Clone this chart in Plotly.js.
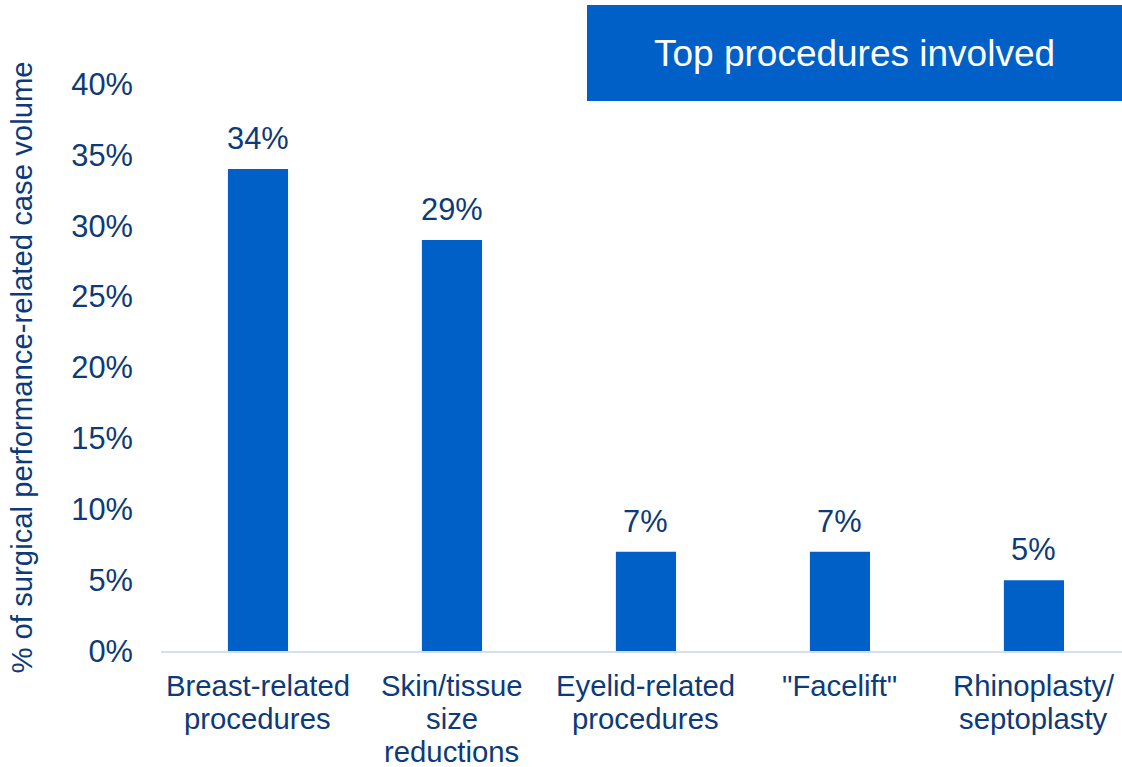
<!DOCTYPE html>
<html>
<head>
<meta charset="utf-8">
<script src="https://cdn.plot.ly/plotly-3.0.1.min.js"></script>
<style>html,body{margin:0;padding:0;background:#fff;}#chart{width:1122px;height:767px;}</style>
</head>
<body>
<div id="chart"></div>
<script>
const categories = ["Breast-related<br>procedures", "Skin/tissue<br>size<br>reductions", "Eyelid-related<br>procedures", "\"Facelift\"", "Rhinoplasty/<br>septoplasty"];
const values = [34, 29, 7, 7, 5];
const valueLabels = ["34%", "29%", "7%", "7%", "5%"];
const yTickVals = [0, 5, 10, 15, 20, 25, 30, 35, 40];
const chartTitle = "Top procedures involved";
const yTitle = "% of surgical performance-related case volume";

const navy = "#0d3a78";
const blue = "#0060c8";
const fnt = "Liberation Sans, Arial, sans-serif";
const fs = 29.3;
const fsNum = 30.8;

const annotations = [];
const lineShifts = [-34, -67, -100];
categories.forEach((c, i) => {
  c.split("<br>").forEach((ln, j) => {
    annotations.push({
      x: i, xref: "x", y: 0, yref: "paper",
      text: ln, showarrow: false, xanchor: "center", yanchor: "middle",
      yshift: lineShifts[j], font: {family: fnt, size: fs, color: navy}
    });
  });
});
values.forEach((v, i) => {
  annotations.push({
    x: i, xref: "x", y: v, yref: "y",
    text: valueLabels[i], showarrow: false, xanchor: "center", yanchor: "bottom",
    yshift: 11, font: {family: fnt, size: fsNum, color: navy}
  });
});

const data = [{
  type: "bar",
  x: categories.map((c, i) => i),
  y: values,
  marker: {color: blue},
  hoverinfo: "none"
}];

const layout = {
  width: 1122, height: 767,
  margin: {l: 161, r: 0, t: 84, b: 116, autoexpand: false},
  paper_bgcolor: "#fff", plot_bgcolor: "#fff",
  showlegend: false,
  bargap: 0.69,
  title: {
    text: chartTitle, xref: "container", yref: "container",
    x: 0.7616, y: 0.931, xanchor: "center", yanchor: "middle",
    font: {family: fnt, size: 37, color: "#ffffff"}
  },
  xaxis: {
    type: "linear", range: [-0.5, 4.454],
    showticklabels: false, ticks: "", showgrid: false, zeroline: false,
    showline: true, linecolor: "#d5dff0", linewidth: 2, fixedrange: true
  },
  yaxis: {
    range: [0, 40], tickvals: yTickVals, ticktext: yTickVals.map(v => v + "%"),
    showgrid: false, zeroline: false, showline: false, ticks: "",
    ticklabelstandoff: 27,
    tickfont: {family: fnt, size: fsNum, color: navy},
    title: {text: yTitle, font: {family: fnt, size: fs, color: navy}, standoff: 30},
    automargin: false, fixedrange: true
  },
  shapes: [{
    type: "rect", xref: "paper", yref: "paper",
    x0: 0.4433, x1: 1.0, y0: 0.970, y1: 1.1393,
    fillcolor: blue, line: {width: 0}, layer: "below"
  }],
  annotations: annotations
};

Plotly.newPlot("chart", data, layout, {staticPlot: true, displayModeBar: false});
</script>
</body>
</html>
